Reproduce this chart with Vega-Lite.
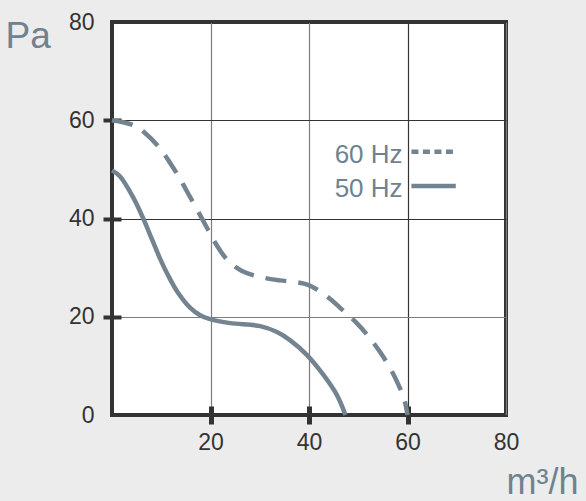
{
  "$schema": "https://vega.github.io/schema/vega-lite/v6.json",
  "autosize": {"type": "none"},
  "width": 394,
  "height": 393,
  "padding": {"left": 112, "top": 22, "right": 80, "bottom": 86},
  "background": "#ececec",
  "config": {
    "font": "Liberation Sans",
    "view": {"fill": "white", "stroke": "#333333", "strokeWidth": 4}
  },
  "datasets": {
    "curves": [
      {"series": "60 Hz", "x": 0, "y": 60.0},
      {"series": "60 Hz", "x": 4.3, "y": 59.0},
      {"series": "60 Hz", "x": 6.7, "y": 57.4},
      {"series": "60 Hz", "x": 9.8, "y": 54.2},
      {"series": "60 Hz", "x": 11.8, "y": 51.3},
      {"series": "60 Hz", "x": 13.8, "y": 48.1},
      {"series": "60 Hz", "x": 15.4, "y": 45.2},
      {"series": "60 Hz", "x": 17.5, "y": 41.4},
      {"series": "60 Hz", "x": 19.5, "y": 37.7},
      {"series": "60 Hz", "x": 21.3, "y": 34.5},
      {"series": "60 Hz", "x": 23.4, "y": 31.6},
      {"series": "60 Hz", "x": 26.4, "y": 29.3},
      {"series": "60 Hz", "x": 30.1, "y": 28.1},
      {"series": "60 Hz", "x": 34.1, "y": 27.4},
      {"series": "60 Hz", "x": 37.6, "y": 27.0},
      {"series": "60 Hz", "x": 39.8, "y": 26.5},
      {"series": "60 Hz", "x": 41.7, "y": 25.5},
      {"series": "60 Hz", "x": 44.3, "y": 23.6},
      {"series": "60 Hz", "x": 47.0, "y": 21.2},
      {"series": "60 Hz", "x": 49.8, "y": 18.6},
      {"series": "60 Hz", "x": 52.4, "y": 15.6},
      {"series": "60 Hz", "x": 54.5, "y": 12.7},
      {"series": "60 Hz", "x": 56.5, "y": 9.5},
      {"series": "60 Hz", "x": 58.1, "y": 6.3},
      {"series": "60 Hz", "x": 59.4, "y": 3.0},
      {"series": "60 Hz", "x": 60.0, "y": 0},
      {"series": "50 Hz", "x": 0, "y": 49.8},
      {"series": "50 Hz", "x": 1.6, "y": 48.6},
      {"series": "50 Hz", "x": 4.3, "y": 44.3},
      {"series": "50 Hz", "x": 6.3, "y": 40.1},
      {"series": "50 Hz", "x": 8.1, "y": 35.8},
      {"series": "50 Hz", "x": 9.6, "y": 32.2},
      {"series": "50 Hz", "x": 11.2, "y": 28.8},
      {"series": "50 Hz", "x": 13.2, "y": 25.2},
      {"series": "50 Hz", "x": 15.9, "y": 21.8},
      {"series": "50 Hz", "x": 17.9, "y": 20.3},
      {"series": "50 Hz", "x": 19.9, "y": 19.5},
      {"series": "50 Hz", "x": 24.0, "y": 18.7},
      {"series": "50 Hz", "x": 30.1, "y": 18.1},
      {"series": "50 Hz", "x": 33.5, "y": 16.9},
      {"series": "50 Hz", "x": 36.2, "y": 15.2},
      {"series": "50 Hz", "x": 39.6, "y": 12.2},
      {"series": "50 Hz", "x": 42.9, "y": 8.2},
      {"series": "50 Hz", "x": 45.7, "y": 4.0},
      {"series": "50 Hz", "x": 47.4, "y": 0}
    ],
    "legend": [
      {"series": "60 Hz", "tx": 59.0, "ty": 51.3, "lx": 60.8, "lx2": 69.8, "ly": 53.6},
      {"series": "50 Hz", "tx": 59.0, "ty": 44.3, "lx": 60.8, "lx2": 69.8, "ly": 46.6}
    ]
  },
  "layer": [
    {
      "data": {"name": "curves"},
      "transform": [{"filter": "datum.series == '60 Hz'"}],
      "mark": {"type": "line", "interpolate": "catmull-rom", "color": "#738490", "strokeWidth": 4.5, "strokeDash": [21, 12]},
      "encoding": {
        "x": {
          "field": "x", "type": "quantitative",
          "scale": {"domain": [0, 80], "nice": false},
          "axis": {
            "values": [20, 40, 60, 80],
            "domain": false,
            "offset": -9,
            "tickSize": 18,
            "tickWidth": 5,
            "tickColor": "#333333",
            "tickOpacity": {"condition": {"test": "datum.value == 80", "value": 0}, "value": 1},
            "labelFontSize": 23,
            "labelColor": "#333333",
            "labelPadding": 7,
            "labelFlush": false,
            "grid": true,
            "gridColor": {"condition": {"test": "datum.value == 60", "value": "#333333"}, "value": "#7d7d7d"},
            "gridWidth": 1.2,
            "title": "m³/h",
            "titleFontSize": 36,
            "titleFontWeight": "normal",
            "titleColor": "#6e8290",
            "titleAlign": "right",
            "titleBaseline": "alphabetic",
            "titleAnchor": "end",
            "titleX": 466,
            "titleY": 87
          }
        },
        "y": {
          "field": "y", "type": "quantitative",
          "scale": {"domain": [0, 80], "nice": false},
          "axis": {
            "values": [0, 20, 40, 60, 80],
            "domain": false,
            "offset": -9,
            "tickSize": 18,
            "tickWidth": 4,
            "tickColor": "#333333",
            "tickOpacity": {"condition": {"test": "datum.value == 0 || datum.value == 80", "value": 0}, "value": 1},
            "labelFontSize": 23,
            "labelColor": "#333333",
            "labelPadding": 9,
            "labelFlush": false,
            "grid": true,
            "gridColor": {"condition": {"test": "datum.value == 20", "value": "#7d7d7d"}, "value": "#333333"},
            "gridWidth": 1.2,
            "title": "Pa",
            "titleAngle": 0,
            "titleFontSize": 37,
            "titleFontWeight": "normal",
            "titleColor": "#6e8290",
            "titleAlign": "left",
            "titleBaseline": "alphabetic",
            "titleX": -116,
            "titleY": 25
          }
        }
      }
    },
    {
      "data": {"name": "curves"},
      "transform": [{"filter": "datum.series == '50 Hz'"}],
      "mark": {"type": "line", "interpolate": "catmull-rom", "color": "#738490", "strokeWidth": 4.5},
      "encoding": {
        "x": {"field": "x", "type": "quantitative"},
        "y": {"field": "y", "type": "quantitative"}
      }
    },
    {
      "data": {"name": "legend"},
      "mark": {"type": "text", "align": "right", "baseline": "alphabetic", "fontSize": 26, "color": "#6e8290"},
      "encoding": {
        "x": {"field": "tx", "type": "quantitative"},
        "y": {"field": "ty", "type": "quantitative"},
        "text": {"field": "series"}
      }
    },
    {
      "data": {"name": "legend"},
      "transform": [{"filter": "datum.series == '60 Hz'"}],
      "mark": {"type": "rule", "color": "#738490", "strokeWidth": 4.5, "strokeDash": [7, 4.5]},
      "encoding": {
        "x": {"field": "lx", "type": "quantitative"},
        "x2": {"field": "lx2"},
        "y": {"field": "ly", "type": "quantitative"}
      }
    },
    {
      "data": {"name": "legend"},
      "transform": [{"filter": "datum.series == '50 Hz'"}],
      "mark": {"type": "rule", "color": "#738490", "strokeWidth": 4.5},
      "encoding": {
        "x": {"field": "lx", "type": "quantitative"},
        "x2": {"field": "lx2"},
        "y": {"field": "ly", "type": "quantitative"}
      }
    }
  ]
}
